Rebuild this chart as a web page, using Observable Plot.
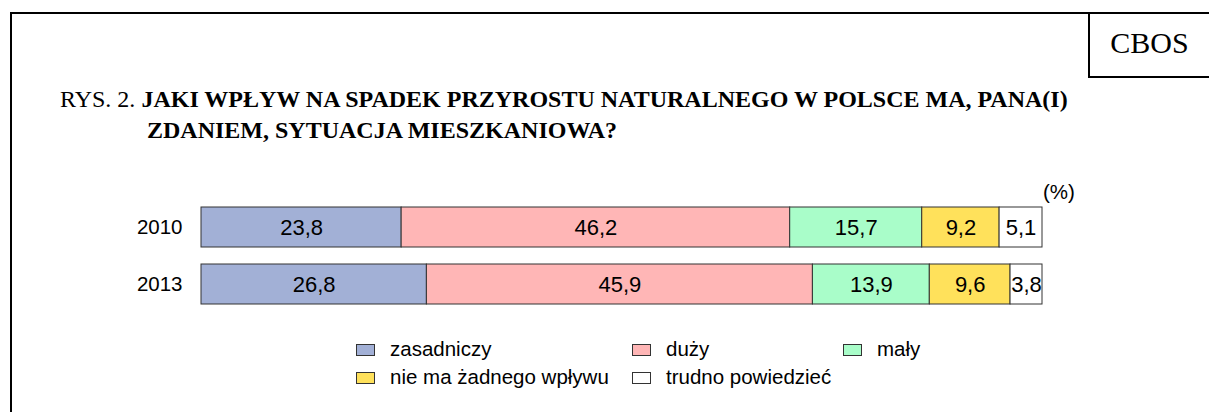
<!DOCTYPE html>
<html>
<head>
<meta charset="utf-8">
<script src="https://cdn.jsdelivr.net/npm/d3@7"></script>
<script src="https://cdn.jsdelivr.net/npm/@observablehq/plot@0.6"></script>
<style>
  body { margin: 0; background: #fff; }
  #page { position: relative; width: 1209px; height: 412px; overflow: hidden; background: #fff;
          font-family: "Liberation Sans", Arial, sans-serif; color: #000; }
  #frame { position: absolute; left: 10px; top: 12px; width: 1400px; height: 600px;
           border-left: 2.5px solid #000; border-top: 2.5px solid #000; }
  #cbos { position: absolute; left: 1088px; top: 12px; width: 300px; height: 64px;
          border-left: 2.5px solid #000; border-bottom: 2.5px solid #000; }
  #cbosText { position: absolute; left: 1090px; width: 119px; top: 28px; text-align: center;
              font-family: "Liberation Serif", "Times New Roman", serif; font-size: 30px; line-height: 1; }
  .title { position: absolute; font-family: "Liberation Serif", "Times New Roman", serif;
           font-size: 24px; line-height: 1; white-space: nowrap; }
  #t1 { left: 60px; top: 87px; }
  #t2 { left: 147px; top: 118px; }
  #chart { position: absolute; left: 0; top: 170px; }
  #pct { position: absolute; left: 1043px; top: 182px; font-size: 20.5px; line-height: 1; }
  .lg { position: absolute; display: flex; align-items: center; font-size: 20.5px; line-height: 1; white-space: nowrap; }
  .sw { width: 17px; height: 10px; border: 1px solid #333; margin-right: 15px; margin-top: 2px; }
</style>
</head>
<body>
<div id="page">
  <div id="frame"></div>
  <div id="cbos"></div>
  <div id="cbosText">CBOS</div>
  <div class="title" id="t1">RYS. 2. <b>JAKI WPŁYW NA SPADEK PRZYROSTU NATURALNEGO W POLSCE MA, PANA(I)</b></div>
  <div class="title" id="t2"><b>ZDANIEM, SYTUACJA MIESZKANIOWA?</b></div>
  <div id="pct">(%)</div>
  <div id="chart"></div>
  <div id="legend"></div>
</div>
<script>
// ---- data ----
const years = ["2010", "2013"];
const categories = ["zasadniczy", "duży", "mały", "nie ma żadnego wpływu", "trudno powiedzieć"];
const values2010 = [23.8, 46.2, 15.7, 9.2, 5.1];
const values2013 = [26.8, 45.9, 13.9, 9.6, 3.8];
const colors = ["#A2B0D6", "#FFB6B6", "#A9FDC9", "#FFE15B", "#FFFFFF"];

const series = {"2010": values2010, "2013": values2013};
const rows = [];
for (const y of years) {
  categories.forEach((c, i) => rows.push({year: y, cat: c, value: series[y][i]}));
}
const fmt = v => v.toFixed(1).replace(".", ",");

const chart = Plot.plot({
  width: 1209,
  height: 150,
  marginLeft: 201,
  marginRight: 167,
  marginTop: 28.5,
  marginBottom: 7.5,
  style: {fontFamily: '"Liberation Sans", Arial, sans-serif', color: "#000", background: "transparent"},
  x: {domain: [0, 100], axis: null},
  y: {domain: years, paddingInner: 0.3, paddingOuter: 0.15, label: null},
  color: {domain: categories, range: colors},
  marks: [
    Plot.axisY({tickSize: 0, tickPadding: 19, fontSize: 20.5, label: null}),
    Plot.barX(rows, Plot.stackX({x: "value", y: "year", fill: "cat", order: categories,
      stroke: "#333", strokeWidth: 1})),
    Plot.text(rows, Plot.stackX({x: "value", y: "year", z: "cat", order: categories,
      text: d => fmt(d.value), fontSize: 22, fill: "#000"}))
  ]
});
document.getElementById("chart").appendChild(chart);

// ---- legend ----
const legendCols = [356, 632, 843];
const legendRows = [339, 367];
categories.forEach((c, i) => {
  const item = document.createElement("div");
  item.className = "lg";
  item.style.left = legendCols[i % 3] + "px";
  item.style.top = legendRows[Math.floor(i / 3)] + "px";
  const sw = document.createElement("div");
  sw.className = "sw";
  sw.style.background = colors[i];
  const lab = document.createElement("span");
  lab.textContent = c;
  item.appendChild(sw);
  item.appendChild(lab);
  document.getElementById("page").appendChild(item);
});
</script>
</body>
</html>
